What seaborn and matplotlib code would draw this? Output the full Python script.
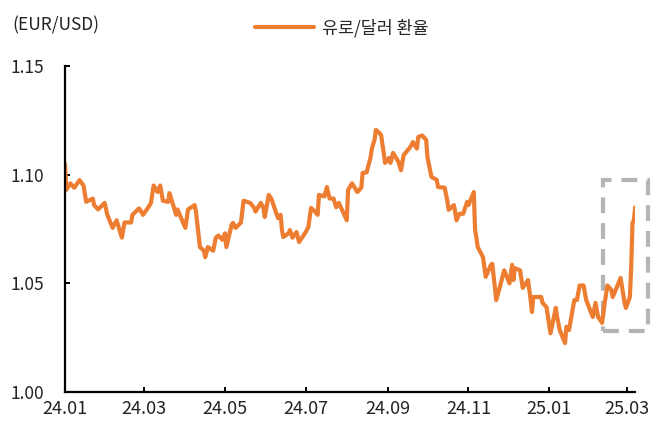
import matplotlib
matplotlib.use("Agg")
import matplotlib.pyplot as plt
import matplotlib.dates as mdates
from matplotlib.patches import Rectangle
import numpy as np
import pandas as pd
import seaborn as sns

sns.set_style("white")
plt.rcParams['font.family'] = ['Noto Sans CJK KR', 'DejaVu Sans']
plt.rcParams['font.weight'] = 'light'

# EUR/USD
dates = [
    "2024-01-01", "2024-01-02", "2024-01-05", "2024-01-08", "2024-01-12", "2024-01-15",
    "2024-01-17", "2024-01-22", "2024-01-23", "2024-01-26", "2024-01-31",
    "2024-02-02", "2024-02-06", "2024-02-09", "2024-02-13", "2024-02-15", "2024-02-20",
    "2024-02-21", "2024-02-26", "2024-02-29",
    "2024-03-04", "2024-03-06", "2024-03-08", "2024-03-11", "2024-03-13", "2024-03-15",
    "2024-03-19", "2024-03-20", "2024-03-25", "2024-03-26",
    "2024-04-01", "2024-04-03", "2024-04-08", "2024-04-09", "2024-04-12", "2024-04-15",
    "2024-04-16", "2024-04-18", "2024-04-22", "2024-04-24", "2024-04-26", "2024-04-29",
    "2024-05-01", "2024-05-02", "2024-05-06", "2024-05-07", "2024-05-09", "2024-05-13",
    "2024-05-15", "2024-05-20", "2024-05-23", "2024-05-24", "2024-05-28", "2024-05-30",
    "2024-05-31",
    "2024-06-03", "2024-06-05", "2024-06-10", "2024-06-12", "2024-06-13", "2024-06-14",
    "2024-06-18", "2024-06-19", "2024-06-21", "2024-06-24", "2024-06-26",
    "2024-07-01", "2024-07-03", "2024-07-05", "2024-07-08", "2024-07-10", "2024-07-11",
    "2024-07-15", "2024-07-17", "2024-07-19", "2024-07-22", "2024-07-24", "2024-07-26",
    "2024-08-01", "2024-08-02", "2024-08-05", "2024-08-09", "2024-08-12", "2024-08-13",
    "2024-08-16", "2024-08-19", "2024-08-20", "2024-08-22", "2024-08-23", "2024-08-26",
    "2024-08-27", "2024-08-30",
    "2024-09-02", "2024-09-03", "2024-09-05", "2024-09-09", "2024-09-11", "2024-09-13",
    "2024-09-18", "2024-09-20", "2024-09-23", "2024-09-24", "2024-09-27", "2024-09-30",
    "2024-10-01", "2024-10-04", "2024-10-08", "2024-10-09", "2024-10-14", "2024-10-16",
    "2024-10-17", "2024-10-21", "2024-10-23", "2024-10-25", "2024-10-28", "2024-10-31",
    "2024-11-01", "2024-11-05", "2024-11-06", "2024-11-07", "2024-11-08", "2024-11-12",
    "2024-11-14", "2024-11-18", "2024-11-19", "2024-11-22", "2024-11-25", "2024-11-28",
    "2024-12-02", "2024-12-04", "2024-12-05", "2024-12-06", "2024-12-10", "2024-12-12",
    "2024-12-16", "2024-12-18", "2024-12-19", "2024-12-20", "2024-12-26", "2024-12-27",
    "2024-12-30",
    "2025-01-02", "2025-01-06", "2025-01-07", "2025-01-09", "2025-01-13", "2025-01-14",
    "2025-01-16", "2025-01-20", "2025-01-22", "2025-01-24", "2025-01-27", "2025-01-29",
    "2025-02-03", "2025-02-05", "2025-02-07", "2025-02-10", "2025-02-12", "2025-02-14",
    "2025-02-17", "2025-02-18", "2025-02-21", "2025-02-24", "2025-02-27", "2025-02-28",
    "2025-03-03", "2025-03-04", "2025-03-05", "2025-03-06", "2025-03-07",
]
rates = [
    1.105, 1.093, 1.096, 1.094, 1.0975, 1.095,
    1.0875, 1.089, 1.086, 1.084, 1.087,
    1.0815, 1.0755, 1.079, 1.071, 1.078, 1.078,
    1.0815, 1.0845, 1.0815,
    1.085, 1.087, 1.095, 1.092, 1.095, 1.088,
    1.0875, 1.0915, 1.0815, 1.084,
    1.0755, 1.084, 1.086, 1.083, 1.0667, 1.065,
    1.062, 1.0667, 1.065, 1.071, 1.072, 1.070,
    1.073, 1.0667, 1.077, 1.0778, 1.0755, 1.078,
    1.088, 1.087, 1.0847, 1.083, 1.087, 1.0847,
    1.0805,
    1.0907, 1.089, 1.080, 1.0815, 1.0745, 1.0713,
    1.073, 1.0745, 1.071, 1.0736, 1.069,
    1.0736, 1.076, 1.0847, 1.083, 1.0815, 1.0907,
    1.090, 1.0943, 1.089, 1.089, 1.085, 1.087,
    1.079, 1.093, 1.096, 1.092, 1.094, 1.1008,
    1.101, 1.108, 1.112, 1.116, 1.1206, 1.119,
    1.118, 1.1054,
    1.1077, 1.1054, 1.110, 1.106, 1.102, 1.109,
    1.1127, 1.115, 1.112, 1.1173, 1.118, 1.116,
    1.108, 1.099, 1.0976, 1.0943, 1.094, 1.088,
    1.0838, 1.086, 1.079, 1.082, 1.082, 1.0875,
    1.086, 1.092, 1.0745, 1.071, 1.0667, 1.062,
    1.053, 1.0585, 1.059, 1.0423, 1.049, 1.056,
    1.050, 1.0585, 1.0515, 1.057, 1.056, 1.0479,
    1.0515, 1.0423, 1.0368, 1.0437, 1.0437, 1.041,
    1.039,
    1.027, 1.0387, 1.0345, 1.0285, 1.0225, 1.030,
    1.0285, 1.0423, 1.0423, 1.049, 1.049, 1.0423,
    1.0345, 1.041, 1.0345, 1.0318, 1.041, 1.049,
    1.047, 1.0437, 1.048, 1.0525, 1.041, 1.0387,
    1.0437, 1.0575, 1.0778, 1.079, 1.085,
]
series_name = "유로/달러 환율"
y_ticks = [1.00, 1.05, 1.10, 1.15]
x_ticks = ["2024-01-01", "2024-03-01", "2024-05-01", "2024-07-01",
           "2024-09-01", "2024-11-01", "2025-01-01", "2025-03-01"]

df = pd.DataFrame({"date": pd.to_datetime(dates), "rate": rates})

fig = plt.figure(figsize=(6.7, 4.37), dpi=100)
ax = fig.add_axes([0.097, 0.103, 0.851, 0.746])

sns.lineplot(data=df, x="date", y="rate", ax=ax, color="#ED7D31",
             linewidth=3.0, label=series_name, legend=False)

ax.set_xlim(pd.Timestamp("2024-01-01"), pd.Timestamp("2025-03-07"))
ax.set_ylim(1.0, 1.15)
ax.set_yticks(y_ticks)
ax.set_yticklabels([f"{v:.2f}" for v in y_ticks])
ax.set_xticks(pd.to_datetime(x_ticks))
ax.xaxis.set_major_formatter(mdates.DateFormatter("%y.%m"))
ax.set_xlabel("")
ax.set_ylabel("")

for side in ["top", "right"]:
    ax.spines[side].set_visible(False)
for side in ["left", "bottom"]:
    ax.spines[side].set_linewidth(1.6)
    ax.spines[side].set_color("black")

ax.tick_params(axis="both", direction="in", length=3.5, width=1.4,
               colors="black", labelcolor="#222222")
ax.tick_params(axis="y", pad=15, left=True, labelsize=12.5)
ax.tick_params(axis="x", pad=6, bottom=True, labelsize=13)

# dashed box around the latest jump
x0 = mdates.date2num(pd.Timestamp("2025-02-11"))
x1 = mdates.date2num(pd.Timestamp("2025-03-17"))
box = Rectangle((x0, 1.028), x1 - x0, 1.0976 - 1.028, fill=False,
                edgecolor="#B4B4B4", linewidth=3, linestyle=(0, (3.8, 2.4)),
                clip_on=False)
ax.add_patch(box)

fig.text(0.018, 0.943, "(EUR/USD)", fontsize=12.5, color="#222222",
         ha="left", va="center")

handles, labels = ax.get_legend_handles_labels()
fig.legend(handles, labels, loc="center", bbox_to_anchor=(0.51, 0.936),
           frameon=False, fontsize=12.5, handlelength=3.4, handletextpad=0.5)

fig.savefig("out.png", dpi=100)
